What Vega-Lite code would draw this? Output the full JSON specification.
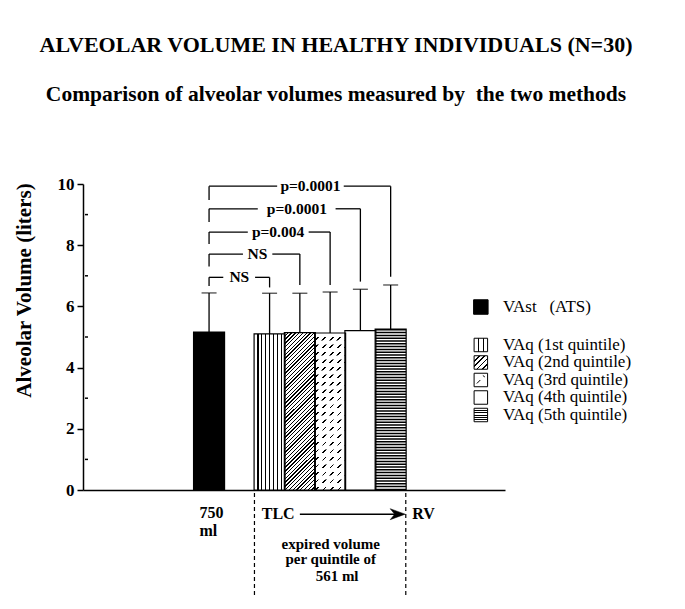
{
  "$schema": "https://vega.github.io/schema/vega-lite/v6.json",
  "width": 422,
  "height": 306,
  "autosize": {"type": "none"},
  "padding": {"left": 83, "top": 184, "right": 180, "bottom": 119},
  "background": "white",
  "config": {"view": {"stroke": null}, "font": "Liberation Serif"},
  "title": {
    "text": "ALVEOLAR VOLUME IN HEALTHY INDIVIDUALS (N=30)",
    "subtitle": "Comparison of alveolar volumes measured by\u00a0 the two methods",
    "anchor": "middle", "frame": "group", "dx": 42, "offset": 69,
    "font": "Liberation Serif", "fontSize": 22, "fontWeight": "bold", "color": "black",
    "subtitleFont": "Liberation Serif", "subtitleFontSize": 21.5, "subtitleFontWeight": "bold", "subtitleColor": "black",
    "subtitlePadding": 27
  },
  "datasets": {
    "bars": [
      {"id": "VAst", "rank": 0, "legend": "VAst\u00a0\u00a0\u00a0(ATS)", "pos": 4, "mean": 5.16, "upper": 6.44},
      {"id": "Q1", "rank": 1, "legend": "VAq (1st quintile)", "pos": 6, "mean": 5.10, "upper": 6.43},
      {"id": "Q2", "rank": 2, "legend": "VAq (2nd quintile)", "pos": 7, "mean": 5.14, "upper": 6.43},
      {"id": "Q3", "rank": 3, "legend": "VAq (3rd quintile)", "pos": 8, "mean": 5.13, "upper": 6.47},
      {"id": "Q4", "rank": 4, "legend": "VAq (4th quintile)", "pos": 9, "mean": 5.21, "upper": 6.56},
      {"id": "Q5", "rank": 5, "legend": "VAq (5th quintile)", "pos": 10, "mean": 5.26, "upper": 6.70}
    ],
    "brackets": [
      {"label": "NS", "from": 4, "to": 6, "level": 6.95, "lb": 6.67, "rb": 6.62, "g1": 4.47, "g2": 5.52, "lx": 5.0},
      {"label": "NS", "from": 4, "to": 7, "level": 7.71, "lb": 7.30, "rb": 6.70, "g1": 5.12, "g2": 6.09, "lx": 5.6},
      {"label": "p=0.004", "from": 4, "to": 8, "level": 8.43, "lb": 8.04, "rb": 6.70, "g1": 5.28, "g2": 7.29, "lx": 6.28},
      {"label": "p=0.0001", "from": 4, "to": 9, "level": 9.19, "lb": 8.76, "rb": 6.81, "g1": 5.61, "g2": 8.18, "lx": 6.9},
      {"label": "p=0.0001", "from": 4, "to": 10, "level": 9.93, "lb": 9.48, "rb": 6.97, "g1": 6.25, "g2": 8.45, "lx": 7.35}
    ],
    "minor": [{"v": 1}, {"v": 3}, {"v": 5}, {"v": 7}, {"v": 9}],
    "one": [{}]
  },
  "layer": [
    {
      "data": {"name": "bars"},
      "transform": [{"filter": "datum.id == 'VAst'"}],
      "mark": {"type": "bar", "orient": "vertical", "width": 31, "fill": "black"},
      "encoding": {
        "x": {"field": "pos", "type": "quantitative", "scale": {"domain": [0, 13.613], "nice": false, "zero": false},
          "axis": {"title": null, "ticks": false, "labels": false, "grid": false, "domain": true, "domainColor": "black", "domainWidth": 1.5}},
        "y": {"field": "mean", "type": "quantitative", "scale": {"domain": [0, 10], "nice": false},
          "axis": {"title": "Alveolar Volume (liters)", "values": [0, 2, 4, 6, 8, 10],
            "ticks": true, "tickSize": 6, "tickColor": "black", "tickWidth": 1.5, "domain": true, "domainColor": "black", "domainWidth": 1.5,
            "labels": true, "labelFont": "Liberation Serif", "labelFontSize": 17, "labelFontWeight": "bold", "labelColor": "black", "labelPadding": 3,
            "titleFont": "Liberation Serif", "titleFontSize": 21, "titleFontWeight": "bold", "titleColor": "black",
            "titleAngle": 270, "titleBaseline": "middle", "titleX": -59, "titleY": 106, "grid": false}},
        "y2": {"datum": 0}
      }
    },
    {
      "data": {"name": "minor"},
      "mark": {"type": "rule", "color": "black", "strokeWidth": 1.5},
      "encoding": {
        "x": {"datum": -0.1, "type": "quantitative"},
        "x2": {"datum": 0},
        "y": {"field": "v", "type": "quantitative"}
      }
    },
    {
      "data": {"name": "bars"},
      "transform": [{"filter": "datum.id == 'Q1'"}],
      "mark": {"type": "bar", "orient": "vertical", "width": 31,
        "fill": {"gradient": "linear", "x1": 0, "y1": 0, "x2": 1, "y2": 0, "stops": [
          {"offset": 0, "color": "#fff"},
          {"offset": 0.106, "color": "#fff"}, {"offset": 0.106, "color": "#000"}, {"offset": 0.144, "color": "#000"}, {"offset": 0.144, "color": "#fff"},
          {"offset": 0.231, "color": "#fff"}, {"offset": 0.231, "color": "#000"}, {"offset": 0.269, "color": "#000"}, {"offset": 0.269, "color": "#fff"},
          {"offset": 0.356, "color": "#fff"}, {"offset": 0.356, "color": "#000"}, {"offset": 0.394, "color": "#000"}, {"offset": 0.394, "color": "#fff"},
          {"offset": 0.481, "color": "#fff"}, {"offset": 0.481, "color": "#000"}, {"offset": 0.519, "color": "#000"}, {"offset": 0.519, "color": "#fff"},
          {"offset": 0.606, "color": "#fff"}, {"offset": 0.606, "color": "#000"}, {"offset": 0.644, "color": "#000"}, {"offset": 0.644, "color": "#fff"},
          {"offset": 0.731, "color": "#fff"}, {"offset": 0.731, "color": "#000"}, {"offset": 0.769, "color": "#000"}, {"offset": 0.769, "color": "#fff"},
          {"offset": 0.856, "color": "#fff"}, {"offset": 0.856, "color": "#000"}, {"offset": 0.894, "color": "#000"}, {"offset": 0.894, "color": "#fff"},
          {"offset": 1, "color": "#fff"}]}},
      "encoding": {
        "x": {"field": "pos", "type": "quantitative"},
        "y": {"field": "mean", "type": "quantitative"},
        "y2": {"datum": 0}
      }
    },
    {
      "data": {"name": "bars"},
      "transform": [{"filter": "datum.id == 'Q2'"}],
      "mark": {"type": "bar", "orient": "vertical", "width": 31,
        "fill": {"gradient": "linear", "x1": 0, "y1": 0, "x2": 0.227, "y2": 1.152, "stops": [
          {"offset": 0, "color": "#fff"},
          {"offset": 0.0165, "color": "#fff"}, {"offset": 0.0165, "color": "#000"}, {"offset": 0.0235, "color": "#000"}, {"offset": 0.0235, "color": "#fff"},
          {"offset": 0.0365, "color": "#fff"}, {"offset": 0.0365, "color": "#000"}, {"offset": 0.0435, "color": "#000"}, {"offset": 0.0435, "color": "#fff"},
          {"offset": 0.0565, "color": "#fff"}, {"offset": 0.0565, "color": "#000"}, {"offset": 0.0635, "color": "#000"}, {"offset": 0.0635, "color": "#fff"},
          {"offset": 0.0765, "color": "#fff"}, {"offset": 0.0765, "color": "#000"}, {"offset": 0.0835, "color": "#000"}, {"offset": 0.0835, "color": "#fff"},
          {"offset": 0.0965, "color": "#fff"}, {"offset": 0.0965, "color": "#000"}, {"offset": 0.1035, "color": "#000"}, {"offset": 0.1035, "color": "#fff"},
          {"offset": 0.1165, "color": "#fff"}, {"offset": 0.1165, "color": "#000"}, {"offset": 0.1235, "color": "#000"}, {"offset": 0.1235, "color": "#fff"},
          {"offset": 0.1365, "color": "#fff"}, {"offset": 0.1365, "color": "#000"}, {"offset": 0.1435, "color": "#000"}, {"offset": 0.1435, "color": "#fff"},
          {"offset": 0.1565, "color": "#fff"}, {"offset": 0.1565, "color": "#000"}, {"offset": 0.1635, "color": "#000"}, {"offset": 0.1635, "color": "#fff"},
          {"offset": 0.1765, "color": "#fff"}, {"offset": 0.1765, "color": "#000"}, {"offset": 0.1835, "color": "#000"}, {"offset": 0.1835, "color": "#fff"},
          {"offset": 0.1965, "color": "#fff"}, {"offset": 0.1965, "color": "#000"}, {"offset": 0.2035, "color": "#000"}, {"offset": 0.2035, "color": "#fff"},
          {"offset": 0.2165, "color": "#fff"}, {"offset": 0.2165, "color": "#000"}, {"offset": 0.2235, "color": "#000"}, {"offset": 0.2235, "color": "#fff"},
          {"offset": 0.2365, "color": "#fff"}, {"offset": 0.2365, "color": "#000"}, {"offset": 0.2435, "color": "#000"}, {"offset": 0.2435, "color": "#fff"},
          {"offset": 0.2565, "color": "#fff"}, {"offset": 0.2565, "color": "#000"}, {"offset": 0.2635, "color": "#000"}, {"offset": 0.2635, "color": "#fff"},
          {"offset": 0.2765, "color": "#fff"}, {"offset": 0.2765, "color": "#000"}, {"offset": 0.2835, "color": "#000"}, {"offset": 0.2835, "color": "#fff"},
          {"offset": 0.2965, "color": "#fff"}, {"offset": 0.2965, "color": "#000"}, {"offset": 0.3035, "color": "#000"}, {"offset": 0.3035, "color": "#fff"},
          {"offset": 0.3165, "color": "#fff"}, {"offset": 0.3165, "color": "#000"}, {"offset": 0.3235, "color": "#000"}, {"offset": 0.3235, "color": "#fff"},
          {"offset": 0.3365, "color": "#fff"}, {"offset": 0.3365, "color": "#000"}, {"offset": 0.3435, "color": "#000"}, {"offset": 0.3435, "color": "#fff"},
          {"offset": 0.3565, "color": "#fff"}, {"offset": 0.3565, "color": "#000"}, {"offset": 0.3635, "color": "#000"}, {"offset": 0.3635, "color": "#fff"},
          {"offset": 0.3765, "color": "#fff"}, {"offset": 0.3765, "color": "#000"}, {"offset": 0.3835, "color": "#000"}, {"offset": 0.3835, "color": "#fff"},
          {"offset": 0.3965, "color": "#fff"}, {"offset": 0.3965, "color": "#000"}, {"offset": 0.4035, "color": "#000"}, {"offset": 0.4035, "color": "#fff"},
          {"offset": 0.4165, "color": "#fff"}, {"offset": 0.4165, "color": "#000"}, {"offset": 0.4235, "color": "#000"}, {"offset": 0.4235, "color": "#fff"},
          {"offset": 0.4365, "color": "#fff"}, {"offset": 0.4365, "color": "#000"}, {"offset": 0.4435, "color": "#000"}, {"offset": 0.4435, "color": "#fff"},
          {"offset": 0.4565, "color": "#fff"}, {"offset": 0.4565, "color": "#000"}, {"offset": 0.4635, "color": "#000"}, {"offset": 0.4635, "color": "#fff"},
          {"offset": 0.4765, "color": "#fff"}, {"offset": 0.4765, "color": "#000"}, {"offset": 0.4835, "color": "#000"}, {"offset": 0.4835, "color": "#fff"},
          {"offset": 0.4965, "color": "#fff"}, {"offset": 0.4965, "color": "#000"}, {"offset": 0.5035, "color": "#000"}, {"offset": 0.5035, "color": "#fff"},
          {"offset": 0.5165, "color": "#fff"}, {"offset": 0.5165, "color": "#000"}, {"offset": 0.5235, "color": "#000"}, {"offset": 0.5235, "color": "#fff"},
          {"offset": 0.5365, "color": "#fff"}, {"offset": 0.5365, "color": "#000"}, {"offset": 0.5435, "color": "#000"}, {"offset": 0.5435, "color": "#fff"},
          {"offset": 0.5565, "color": "#fff"}, {"offset": 0.5565, "color": "#000"}, {"offset": 0.5635, "color": "#000"}, {"offset": 0.5635, "color": "#fff"},
          {"offset": 0.5765, "color": "#fff"}, {"offset": 0.5765, "color": "#000"}, {"offset": 0.5835, "color": "#000"}, {"offset": 0.5835, "color": "#fff"},
          {"offset": 0.5965, "color": "#fff"}, {"offset": 0.5965, "color": "#000"}, {"offset": 0.6035, "color": "#000"}, {"offset": 0.6035, "color": "#fff"},
          {"offset": 0.6165, "color": "#fff"}, {"offset": 0.6165, "color": "#000"}, {"offset": 0.6235, "color": "#000"}, {"offset": 0.6235, "color": "#fff"},
          {"offset": 0.6365, "color": "#fff"}, {"offset": 0.6365, "color": "#000"}, {"offset": 0.6435, "color": "#000"}, {"offset": 0.6435, "color": "#fff"},
          {"offset": 0.6565, "color": "#fff"}, {"offset": 0.6565, "color": "#000"}, {"offset": 0.6635, "color": "#000"}, {"offset": 0.6635, "color": "#fff"},
          {"offset": 0.6765, "color": "#fff"}, {"offset": 0.6765, "color": "#000"}, {"offset": 0.6835, "color": "#000"}, {"offset": 0.6835, "color": "#fff"},
          {"offset": 0.6965, "color": "#fff"}, {"offset": 0.6965, "color": "#000"}, {"offset": 0.7035, "color": "#000"}, {"offset": 0.7035, "color": "#fff"},
          {"offset": 0.7165, "color": "#fff"}, {"offset": 0.7165, "color": "#000"}, {"offset": 0.7235, "color": "#000"}, {"offset": 0.7235, "color": "#fff"},
          {"offset": 0.7365, "color": "#fff"}, {"offset": 0.7365, "color": "#000"}, {"offset": 0.7435, "color": "#000"}, {"offset": 0.7435, "color": "#fff"},
          {"offset": 0.7565, "color": "#fff"}, {"offset": 0.7565, "color": "#000"}, {"offset": 0.7635, "color": "#000"}, {"offset": 0.7635, "color": "#fff"},
          {"offset": 0.7765, "color": "#fff"}, {"offset": 0.7765, "color": "#000"}, {"offset": 0.7835, "color": "#000"}, {"offset": 0.7835, "color": "#fff"},
          {"offset": 0.7965, "color": "#fff"}, {"offset": 0.7965, "color": "#000"}, {"offset": 0.8035, "color": "#000"}, {"offset": 0.8035, "color": "#fff"},
          {"offset": 0.8165, "color": "#fff"}, {"offset": 0.8165, "color": "#000"}, {"offset": 0.8235, "color": "#000"}, {"offset": 0.8235, "color": "#fff"},
          {"offset": 0.8365, "color": "#fff"}, {"offset": 0.8365, "color": "#000"}, {"offset": 0.8435, "color": "#000"}, {"offset": 0.8435, "color": "#fff"},
          {"offset": 0.8565, "color": "#fff"}, {"offset": 0.8565, "color": "#000"}, {"offset": 0.8635, "color": "#000"}, {"offset": 0.8635, "color": "#fff"},
          {"offset": 0.8765, "color": "#fff"}, {"offset": 0.8765, "color": "#000"}, {"offset": 0.8835, "color": "#000"}, {"offset": 0.8835, "color": "#fff"},
          {"offset": 0.8965, "color": "#fff"}, {"offset": 0.8965, "color": "#000"}, {"offset": 0.9035, "color": "#000"}, {"offset": 0.9035, "color": "#fff"},
          {"offset": 0.9165, "color": "#fff"}, {"offset": 0.9165, "color": "#000"}, {"offset": 0.9235, "color": "#000"}, {"offset": 0.9235, "color": "#fff"},
          {"offset": 0.9365, "color": "#fff"}, {"offset": 0.9365, "color": "#000"}, {"offset": 0.9435, "color": "#000"}, {"offset": 0.9435, "color": "#fff"},
          {"offset": 0.9565, "color": "#fff"}, {"offset": 0.9565, "color": "#000"}, {"offset": 0.9635, "color": "#000"}, {"offset": 0.9635, "color": "#fff"},
          {"offset": 0.9765, "color": "#fff"}, {"offset": 0.9765, "color": "#000"}, {"offset": 0.9835, "color": "#000"}, {"offset": 0.9835, "color": "#fff"},
          {"offset": 1, "color": "#fff"}]}},
      "encoding": {
        "x": {"field": "pos", "type": "quantitative"},
        "y": {"field": "mean", "type": "quantitative"},
        "y2": {"datum": 0}
      }
    },
    {
      "data": {"name": "bars"},
      "transform": [{"filter": "datum.id == 'Q3'"}],
      "mark": {"type": "bar", "orient": "vertical", "width": 31,
        "fill": {"gradient": "linear", "x1": 0, "y1": 0, "x2": 0.227, "y2": 1.152, "stops": [
          {"offset": 0, "color": "#fff"},
          {"offset": 0.0355, "color": "#fff"}, {"offset": 0.0355, "color": "#000"}, {"offset": 0.0445, "color": "#000"}, {"offset": 0.0445, "color": "#fff"},
          {"offset": 0.0755, "color": "#fff"}, {"offset": 0.0755, "color": "#000"}, {"offset": 0.0845, "color": "#000"}, {"offset": 0.0845, "color": "#fff"},
          {"offset": 0.1155, "color": "#fff"}, {"offset": 0.1155, "color": "#000"}, {"offset": 0.1245, "color": "#000"}, {"offset": 0.1245, "color": "#fff"},
          {"offset": 0.1555, "color": "#fff"}, {"offset": 0.1555, "color": "#000"}, {"offset": 0.1645, "color": "#000"}, {"offset": 0.1645, "color": "#fff"},
          {"offset": 0.1955, "color": "#fff"}, {"offset": 0.1955, "color": "#000"}, {"offset": 0.2045, "color": "#000"}, {"offset": 0.2045, "color": "#fff"},
          {"offset": 0.2355, "color": "#fff"}, {"offset": 0.2355, "color": "#000"}, {"offset": 0.2445, "color": "#000"}, {"offset": 0.2445, "color": "#fff"},
          {"offset": 0.2755, "color": "#fff"}, {"offset": 0.2755, "color": "#000"}, {"offset": 0.2845, "color": "#000"}, {"offset": 0.2845, "color": "#fff"},
          {"offset": 0.3155, "color": "#fff"}, {"offset": 0.3155, "color": "#000"}, {"offset": 0.3245, "color": "#000"}, {"offset": 0.3245, "color": "#fff"},
          {"offset": 0.3555, "color": "#fff"}, {"offset": 0.3555, "color": "#000"}, {"offset": 0.3645, "color": "#000"}, {"offset": 0.3645, "color": "#fff"},
          {"offset": 0.3955, "color": "#fff"}, {"offset": 0.3955, "color": "#000"}, {"offset": 0.4045, "color": "#000"}, {"offset": 0.4045, "color": "#fff"},
          {"offset": 0.4355, "color": "#fff"}, {"offset": 0.4355, "color": "#000"}, {"offset": 0.4445, "color": "#000"}, {"offset": 0.4445, "color": "#fff"},
          {"offset": 0.4755, "color": "#fff"}, {"offset": 0.4755, "color": "#000"}, {"offset": 0.4845, "color": "#000"}, {"offset": 0.4845, "color": "#fff"},
          {"offset": 0.5155, "color": "#fff"}, {"offset": 0.5155, "color": "#000"}, {"offset": 0.5245, "color": "#000"}, {"offset": 0.5245, "color": "#fff"},
          {"offset": 0.5555, "color": "#fff"}, {"offset": 0.5555, "color": "#000"}, {"offset": 0.5645, "color": "#000"}, {"offset": 0.5645, "color": "#fff"},
          {"offset": 0.5955, "color": "#fff"}, {"offset": 0.5955, "color": "#000"}, {"offset": 0.6045, "color": "#000"}, {"offset": 0.6045, "color": "#fff"},
          {"offset": 0.6355, "color": "#fff"}, {"offset": 0.6355, "color": "#000"}, {"offset": 0.6445, "color": "#000"}, {"offset": 0.6445, "color": "#fff"},
          {"offset": 0.6755, "color": "#fff"}, {"offset": 0.6755, "color": "#000"}, {"offset": 0.6845, "color": "#000"}, {"offset": 0.6845, "color": "#fff"},
          {"offset": 0.7155, "color": "#fff"}, {"offset": 0.7155, "color": "#000"}, {"offset": 0.7245, "color": "#000"}, {"offset": 0.7245, "color": "#fff"},
          {"offset": 0.7555, "color": "#fff"}, {"offset": 0.7555, "color": "#000"}, {"offset": 0.7645, "color": "#000"}, {"offset": 0.7645, "color": "#fff"},
          {"offset": 0.7955, "color": "#fff"}, {"offset": 0.7955, "color": "#000"}, {"offset": 0.8045, "color": "#000"}, {"offset": 0.8045, "color": "#fff"},
          {"offset": 0.8355, "color": "#fff"}, {"offset": 0.8355, "color": "#000"}, {"offset": 0.8445, "color": "#000"}, {"offset": 0.8445, "color": "#fff"},
          {"offset": 0.8755, "color": "#fff"}, {"offset": 0.8755, "color": "#000"}, {"offset": 0.8845, "color": "#000"}, {"offset": 0.8845, "color": "#fff"},
          {"offset": 0.9155, "color": "#fff"}, {"offset": 0.9155, "color": "#000"}, {"offset": 0.9245, "color": "#000"}, {"offset": 0.9245, "color": "#fff"},
          {"offset": 0.9555, "color": "#fff"}, {"offset": 0.9555, "color": "#000"}, {"offset": 0.9645, "color": "#000"}, {"offset": 0.9645, "color": "#fff"},
          {"offset": 1, "color": "#fff"}]}},
      "encoding": {
        "x": {"field": "pos", "type": "quantitative"},
        "y": {"field": "mean", "type": "quantitative"},
        "y2": {"datum": 0}
      }
    },
    {
      "data": {"name": "bars"},
      "transform": [{"filter": "datum.id == 'Q3'"}],
      "mark": {"type": "rule", "stroke": "white", "strokeWidth": 31, "strokeDash": [4, 3.5], "strokeCap": "butt"},
      "encoding": {
        "x": {"field": "pos", "type": "quantitative"},
        "y": {"field": "mean", "type": "quantitative"},
        "y2": {"datum": 0}
      }
    },
    {
      "data": {"name": "bars"},
      "transform": [{"filter": "datum.rank >= 4"}],
      "mark": {"type": "bar", "orient": "vertical", "width": 31, "fill": "white"},
      "encoding": {
        "x": {"field": "pos", "type": "quantitative"},
        "y": {"field": "mean", "type": "quantitative"},
        "y2": {"datum": 0}
      }
    },
    {
      "data": {"name": "bars"},
      "transform": [{"filter": "datum.id == 'Q5'"}],
      "mark": {"type": "rule", "stroke": "black", "strokeWidth": 31, "strokeDash": [1.5, 1.3], "strokeCap": "butt"},
      "encoding": {
        "x": {"field": "pos", "type": "quantitative"},
        "y": {"field": "mean", "type": "quantitative"},
        "y2": {"datum": 0}
      }
    },
    {
      "data": {"name": "bars"},
      "mark": {"type": "bar", "orient": "vertical", "width": 31, "filled": false, "stroke": "black", "strokeWidth": 1.2},
      "encoding": {
        "x": {"field": "pos", "type": "quantitative"},
        "y": {"field": "mean", "type": "quantitative"},
        "y2": {"datum": 0}
      }
    },
    {
      "data": {"name": "bars"},
      "mark": {"type": "rule", "color": "black", "strokeWidth": 1.3},
      "encoding": {
        "x": {"field": "pos", "type": "quantitative"},
        "y": {"field": "mean", "type": "quantitative"},
        "y2": {"field": "upper"}
      }
    },
    {
      "data": {"name": "bars"},
      "mark": {"type": "tick", "orient": "horizontal", "size": 15, "thickness": 1.3, "color": "black"},
      "encoding": {
        "x": {"field": "pos", "type": "quantitative"},
        "y": {"field": "upper", "type": "quantitative"}
      }
    },
    {
      "data": {"name": "brackets"},
      "mark": {"type": "rule", "color": "black", "strokeWidth": 1.3},
      "encoding": {
        "x": {"field": "from", "type": "quantitative"},
        "y": {"field": "lb", "type": "quantitative"},
        "y2": {"field": "level"}
      }
    },
    {
      "data": {"name": "brackets"},
      "mark": {"type": "rule", "color": "black", "strokeWidth": 1.3},
      "encoding": {
        "x": {"field": "from", "type": "quantitative"},
        "x2": {"field": "g1"},
        "y": {"field": "level", "type": "quantitative"}
      }
    },
    {
      "data": {"name": "brackets"},
      "mark": {"type": "rule", "color": "black", "strokeWidth": 1.3},
      "encoding": {
        "x": {"field": "g2", "type": "quantitative"},
        "x2": {"field": "to"},
        "y": {"field": "level", "type": "quantitative"}
      }
    },
    {
      "data": {"name": "brackets"},
      "mark": {"type": "rule", "color": "black", "strokeWidth": 1.3},
      "encoding": {
        "x": {"field": "to", "type": "quantitative"},
        "y": {"field": "rb", "type": "quantitative"},
        "y2": {"field": "level"}
      }
    },
    {
      "data": {"name": "brackets"},
      "mark": {"type": "text", "font": "Liberation Serif", "fontSize": 15.5, "fontWeight": "bold", "color": "black", "align": "center", "baseline": "middle"},
      "encoding": {
        "x": {"field": "lx", "type": "quantitative"},
        "y": {"field": "level", "type": "quantitative"},
        "text": {"field": "label", "type": "nominal"}
      }
    },
    {
      "data": {"name": "bars"},
      "transform": [{"filter": "datum.rank == 0"}, {"calculate": "5.98", "as": "ly"}],
      "mark": {"type": "point", "shape": "square", "size": 210, "filled": true, "fill": "black", "stroke": "black", "strokeWidth": 1, "opacity": 1},
      "encoding": {
        "x": {"datum": 12.98, "type": "quantitative"},
        "y": {"field": "ly", "type": "quantitative"}
      }
    },
    {
      "data": {"name": "bars"},
      "transform": [{"filter": "datum.rank == 1"}, {"calculate": "5.311 - 0.572 * datum.rank", "as": "ly"}],
      "mark": {"type": "point", "shape": "square", "size": 182, "filled": true, "stroke": "black", "strokeWidth": 1, "opacity": 1,
        "fill": {"gradient": "linear", "x1": 0, "y1": 0, "x2": 1, "y2": 0, "stops": [
          {"offset": 0, "color": "#fff"},
          {"offset": 0.29, "color": "#fff"}, {"offset": 0.29, "color": "#000"}, {"offset": 0.37, "color": "#000"}, {"offset": 0.37, "color": "#fff"},
          {"offset": 0.63, "color": "#fff"}, {"offset": 0.63, "color": "#000"}, {"offset": 0.71, "color": "#000"}, {"offset": 0.71, "color": "#fff"},
          {"offset": 1, "color": "#fff"}]}},
      "encoding": {
        "x": {"datum": 12.98, "type": "quantitative"},
        "y": {"field": "ly", "type": "quantitative"}
      }
    },
    {
      "data": {"name": "bars"},
      "transform": [{"filter": "datum.rank == 2"}, {"calculate": "5.311 - 0.572 * datum.rank", "as": "ly"}],
      "mark": {"type": "point", "shape": "square", "size": 182, "filled": true, "stroke": "black", "strokeWidth": 1, "opacity": 1,
        "fill": {"gradient": "linear", "x1": 0, "y1": 0, "x2": 1, "y2": 1, "stops": [
          {"offset": 0, "color": "#fff"},
          {"offset": 0.17, "color": "#fff"}, {"offset": 0.17, "color": "#000"}, {"offset": 0.23, "color": "#000"}, {"offset": 0.23, "color": "#fff"},
          {"offset": 0.37, "color": "#fff"}, {"offset": 0.37, "color": "#000"}, {"offset": 0.43, "color": "#000"}, {"offset": 0.43, "color": "#fff"},
          {"offset": 0.57, "color": "#fff"}, {"offset": 0.57, "color": "#000"}, {"offset": 0.63, "color": "#000"}, {"offset": 0.63, "color": "#fff"},
          {"offset": 0.77, "color": "#fff"}, {"offset": 0.77, "color": "#000"}, {"offset": 0.83, "color": "#000"}, {"offset": 0.83, "color": "#fff"},
          {"offset": 1, "color": "#fff"}]}},
      "encoding": {
        "x": {"datum": 12.98, "type": "quantitative"},
        "y": {"field": "ly", "type": "quantitative"}
      }
    },
    {
      "data": {"name": "bars"},
      "transform": [{"filter": "datum.rank == 3 || datum.rank == 4"}, {"calculate": "5.311 - 0.572 * datum.rank", "as": "ly"}],
      "mark": {"type": "point", "shape": "square", "size": 182, "filled": true, "fill": "white", "stroke": "black", "strokeWidth": 1, "opacity": 1},
      "encoding": {
        "x": {"datum": 12.98, "type": "quantitative"},
        "y": {"field": "ly", "type": "quantitative"}
      }
    },
    {
      "data": {"name": "bars"},
      "transform": [{"filter": "datum.rank == 3"}, {"calculate": "5.311 - 0.572 * datum.rank", "as": "ly"}],
      "mark": {"type": "point", "shape": "M-4,3.5L-0.5,0M2,-4.5L4,-3", "size": 4, "filled": false, "stroke": "black", "strokeWidth": 1, "opacity": 1},
      "encoding": {
        "x": {"datum": 12.98, "type": "quantitative"},
        "y": {"field": "ly", "type": "quantitative"}
      }
    },
    {
      "data": {"name": "bars"},
      "transform": [{"filter": "datum.rank == 5"}, {"calculate": "5.311 - 0.572 * datum.rank", "as": "ly"}],
      "mark": {"type": "point", "shape": "square", "size": 182, "filled": true, "stroke": "black", "strokeWidth": 1, "opacity": 1,
        "fill": {"gradient": "linear", "x1": 0, "y1": 0, "x2": 0, "y2": 1, "stops": [
          {"offset": 0, "color": "#fff"},
          {"offset": 0.13, "color": "#fff"}, {"offset": 0.13, "color": "#000"}, {"offset": 0.2, "color": "#000"}, {"offset": 0.2, "color": "#fff"},
          {"offset": 0.3, "color": "#fff"}, {"offset": 0.3, "color": "#000"}, {"offset": 0.37, "color": "#000"}, {"offset": 0.37, "color": "#fff"},
          {"offset": 0.47, "color": "#fff"}, {"offset": 0.47, "color": "#000"}, {"offset": 0.54, "color": "#000"}, {"offset": 0.54, "color": "#fff"},
          {"offset": 0.64, "color": "#fff"}, {"offset": 0.64, "color": "#000"}, {"offset": 0.71, "color": "#000"}, {"offset": 0.71, "color": "#fff"},
          {"offset": 0.81, "color": "#fff"}, {"offset": 0.81, "color": "#000"}, {"offset": 0.88, "color": "#000"}, {"offset": 0.88, "color": "#fff"},
          {"offset": 1, "color": "#fff"}]}},
      "encoding": {
        "x": {"datum": 12.98, "type": "quantitative"},
        "y": {"field": "ly", "type": "quantitative"}
      }
    },
    {
      "data": {"name": "bars"},
      "transform": [{"calculate": "datum.rank == 0 ? 5.98 : 5.311 - 0.572 * datum.rank", "as": "ly"}],
      "mark": {"type": "text", "font": "Liberation Serif", "fontSize": 17, "color": "black", "align": "left", "baseline": "middle"},
      "encoding": {
        "x": {"datum": 13.71, "type": "quantitative"},
        "y": {"field": "ly", "type": "quantitative"},
        "text": {"field": "legend", "type": "nominal"}
      }
    },
    {
      "data": {"name": "one"},
      "mark": {"type": "text", "text": "750", "font": "Liberation Serif", "fontSize": 16, "fontWeight": "bold", "color": "black", "align": "left", "baseline": "middle"},
      "encoding": {"x": {"datum": 3.68, "type": "quantitative"}, "y": {"datum": -0.75, "type": "quantitative"}}
    },
    {
      "data": {"name": "one"},
      "mark": {"type": "text", "text": "ml", "font": "Liberation Serif", "fontSize": 16, "fontWeight": "bold", "color": "black", "align": "left", "baseline": "middle"},
      "encoding": {"x": {"datum": 3.68, "type": "quantitative"}, "y": {"datum": -1.33, "type": "quantitative"}}
    },
    {
      "data": {"name": "one"},
      "mark": {"type": "text", "text": "TLC", "font": "Liberation Serif", "fontSize": 16, "fontWeight": "bold", "color": "black", "align": "left", "baseline": "middle"},
      "encoding": {"x": {"datum": 5.74, "type": "quantitative"}, "y": {"datum": -0.79, "type": "quantitative"}}
    },
    {
      "data": {"name": "one"},
      "mark": {"type": "text", "text": "RV", "font": "Liberation Serif", "fontSize": 16, "fontWeight": "bold", "color": "black", "align": "left", "baseline": "middle"},
      "encoding": {"x": {"datum": 10.71, "type": "quantitative"}, "y": {"datum": -0.79, "type": "quantitative"}}
    },
    {
      "data": {"name": "one"},
      "mark": {"type": "text", "text": "expired volume", "font": "Liberation Serif", "fontSize": 15, "fontWeight": "bold", "color": "black", "align": "center", "baseline": "middle"},
      "encoding": {"x": {"datum": 8.02, "type": "quantitative"}, "y": {"datum": -1.76, "type": "quantitative"}}
    },
    {
      "data": {"name": "one"},
      "mark": {"type": "text", "text": "per quintile of", "font": "Liberation Serif", "fontSize": 15, "fontWeight": "bold", "color": "black", "align": "center", "baseline": "middle"},
      "encoding": {"x": {"datum": 8.02, "type": "quantitative"}, "y": {"datum": -2.27, "type": "quantitative"}}
    },
    {
      "data": {"name": "one"},
      "mark": {"type": "text", "text": "561 ml", "font": "Liberation Serif", "fontSize": 15, "fontWeight": "bold", "color": "black", "align": "center", "baseline": "middle"},
      "encoding": {"x": {"datum": 8.23, "type": "quantitative"}, "y": {"datum": -2.80, "type": "quantitative"}}
    },
    {
      "data": {"name": "one"},
      "mark": {"type": "rule", "color": "black", "strokeWidth": 1.5},
      "encoding": {"x": {"datum": 7.0, "type": "quantitative"}, "x2": {"datum": 10.2}, "y": {"datum": -0.79, "type": "quantitative"}}
    },
    {
      "data": {"name": "one"},
      "mark": {"type": "point", "shape": "M0,0L-15,-5.5L-10.5,0L-15,5.5Z", "size": 4, "filled": true, "fill": "black", "stroke": "black", "strokeWidth": 0.5, "opacity": 1},
      "encoding": {"x": {"datum": 10.48, "type": "quantitative"}, "y": {"datum": -0.79, "type": "quantitative"}}
    },
    {
      "data": {"name": "one"},
      "mark": {"type": "rule", "color": "black", "strokeWidth": 1.2, "strokeDash": [4, 3]},
      "encoding": {"x": {"datum": 5.5, "type": "quantitative"}, "y": {"datum": -0.1, "type": "quantitative"}, "y2": {"datum": -3.43}}
    },
    {
      "data": {"name": "one"},
      "mark": {"type": "rule", "color": "black", "strokeWidth": 1.2, "strokeDash": [4, 3]},
      "encoding": {"x": {"datum": 10.5, "type": "quantitative"}, "y": {"datum": -0.1, "type": "quantitative"}, "y2": {"datum": -3.43}}
    }
  ]
}
